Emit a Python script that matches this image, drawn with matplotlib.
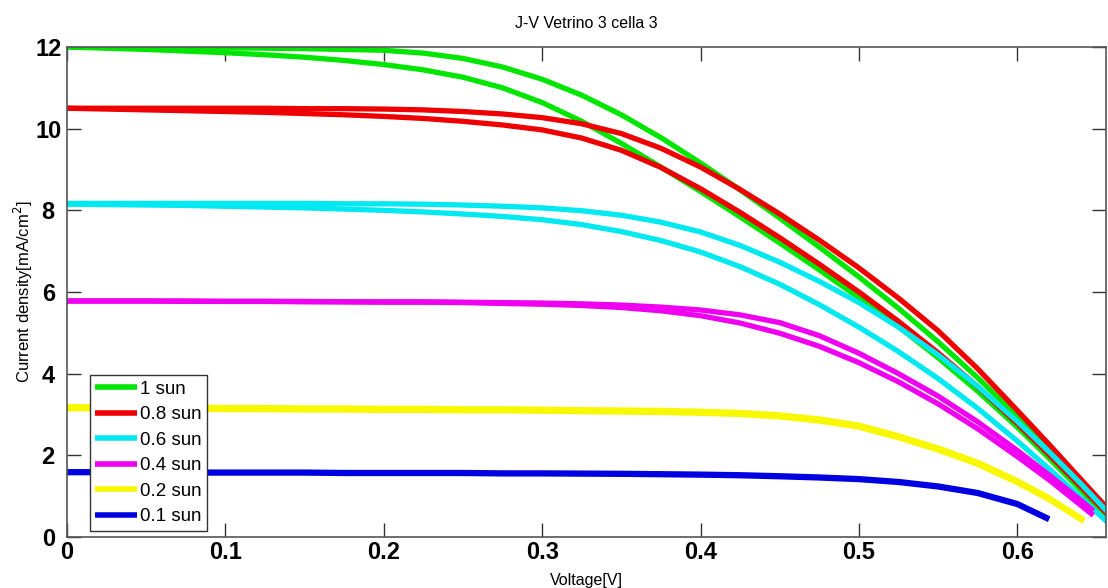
import matplotlib
matplotlib.use("Agg")
import matplotlib.pyplot as plt

plt.rcParams["font.family"] = ["Liberation Sans", "DejaVu Sans"]

# Voltage grids [V]
v_full = [0.0, 0.025, 0.05, 0.075, 0.1, 0.125, 0.15, 0.175, 0.2, 0.225, 0.25, 0.275,
          0.3, 0.325, 0.35, 0.375, 0.4, 0.425, 0.45, 0.475, 0.5, 0.525, 0.55, 0.575,
          0.6, 0.62, 0.64, 0.66]
v_mag = v_full[:-1] + [0.648]
v_yel = v_full[:-2] + [0.642]
v_blu = v_full[:-2]

# Current density [mA/cm^2], two sweeps per illumination level
j_100_a = [12.0, 12.0, 11.99, 11.99, 11.98, 11.97, 11.96, 11.94, 11.92, 11.85, 11.72, 11.51,
           11.21, 10.82, 10.34, 9.78, 9.16, 8.5, 7.81, 7.1, 6.37, 5.6, 4.78, 3.9,
           2.96, 2.16, 1.34, 0.5]
j_100_b = [12.0, 11.97, 11.94, 11.9, 11.86, 11.81, 11.75, 11.67, 11.57, 11.44, 11.26, 11.0,
           10.64, 10.18, 9.64, 9.06, 8.46, 7.84, 7.2, 6.54, 5.86, 5.15, 4.39, 3.57,
           2.69, 1.93, 1.15, 0.35]
j_080_a = [10.5, 10.5, 10.5, 10.5, 10.5, 10.5, 10.49, 10.49, 10.48, 10.46, 10.42, 10.36,
           10.27, 10.12, 9.88, 9.52, 9.06, 8.51, 7.91, 7.27, 6.59, 5.85, 5.05, 4.12,
           3.1, 2.27, 1.42, 0.57]
j_080_b = [10.5, 10.48, 10.46, 10.44, 10.42, 10.4, 10.37, 10.34, 10.3, 10.25, 10.18, 10.09,
           9.97, 9.77, 9.47, 9.05, 8.53, 7.95, 7.33, 6.68, 6.0, 5.28, 4.51, 3.68,
           2.78, 2.02, 1.24, 0.44]
j_060_a = [8.17, 8.17, 8.17, 8.17, 8.17, 8.17, 8.17, 8.16, 8.16, 8.15, 8.13, 8.1,
           8.06, 7.99, 7.88, 7.71, 7.47, 7.14, 6.73, 6.26, 5.74, 5.14, 4.46, 3.69,
           2.83, 2.09, 1.31, 0.49]
j_060_b = [8.15, 8.14, 8.13, 8.12, 8.1, 8.08, 8.06, 8.03, 8.0, 7.96, 7.91, 7.85,
           7.77, 7.65, 7.48, 7.26, 6.98, 6.62, 6.19, 5.69, 5.14, 4.54, 3.88, 3.15,
           2.35, 1.67, 0.97, 0.25]
j_040_a = [5.78, 5.78, 5.78, 5.78, 5.77, 5.77, 5.77, 5.76, 5.76, 5.76, 5.75, 5.74,
           5.73, 5.71, 5.68, 5.63, 5.56, 5.44, 5.25, 4.93, 4.5, 4.0, 3.45, 2.82,
           2.12, 1.52, 0.9, 0.64]
j_040_b = [5.78, 5.78, 5.78, 5.77, 5.77, 5.77, 5.76, 5.76, 5.75, 5.75, 5.74, 5.72,
           5.7, 5.67, 5.62, 5.54, 5.42, 5.24, 4.99, 4.67, 4.27, 3.8, 3.26, 2.65,
           1.97, 1.4, 0.78, 0.53]
j_020_a = [3.19, 3.19, 3.18, 3.18, 3.17, 3.17, 3.16, 3.16, 3.15, 3.15, 3.14, 3.14,
           3.13, 3.12, 3.11, 3.1, 3.08, 3.05, 2.99, 2.89, 2.74, 2.48, 2.18, 1.83,
           1.38, 0.96, 0.42]
j_020_b = [3.14, 3.14, 3.13, 3.13, 3.12, 3.12, 3.11, 3.11, 3.1, 3.1, 3.09, 3.09,
           3.08, 3.07, 3.06, 3.05, 3.03, 3.0, 2.94, 2.84, 2.69, 2.43, 2.13, 1.78,
           1.33, 0.92, 0.38]
j_010_a = [1.6, 1.6, 1.6, 1.59, 1.59, 1.59, 1.59, 1.58, 1.58, 1.58, 1.58, 1.57,
           1.57, 1.565, 1.56, 1.55, 1.54, 1.525, 1.5, 1.47, 1.43, 1.36, 1.25, 1.09,
           0.82, 0.45]
j_010_b = [1.575, 1.575, 1.575, 1.565, 1.565, 1.565, 1.565, 1.555, 1.555, 1.555, 1.555, 1.545,
           1.545, 1.54, 1.535, 1.525, 1.515, 1.5, 1.475, 1.445, 1.405, 1.335, 1.225, 1.065,
           0.795, 0.425]

labels = ["1 sun", "0.8 sun", "0.6 sun", "0.4 sun", "0.2 sun", "0.1 sun"]
colors = ["#00e600", "#ee0000", "#00e8f0", "#f000f0", "#f8f800", "#0000e0"]

sweeps = [
    (v_full, j_100_a, j_100_b),
    (v_full, j_080_a, j_080_b),
    (v_full, j_060_a, j_060_b),
    (v_mag, j_040_a, j_040_b),
    (v_yel, j_020_a, j_020_b),
    (v_blu, j_010_a, j_010_b),
]

fig = plt.figure(figsize=(11.08, 5.88), dpi=100)
ax = fig.add_axes([67 / 1108, 1 - 537 / 588, (1106 - 67) / 1108, (537 - 47) / 588])

handles = []
for (v, ja, jb), lab, col in zip(sweeps, labels, colors):
    h, = ax.plot(v, ja, color=col, lw=3.8, solid_capstyle="butt",
                 solid_joinstyle="round", label=lab)
    ax.plot(v, jb, color=col, lw=3.8, solid_capstyle="butt", solid_joinstyle="round")
    handles.append(h)

ax.set_xlim(0, 0.656)
ax.set_ylim(0, 12)
ax.set_xticks([0, 0.1, 0.2, 0.3, 0.4, 0.5, 0.6])
ax.set_xticklabels(["0", "0.1", "0.2", "0.3", "0.4", "0.5", "0.6"])
ax.set_yticks([0, 2, 4, 6, 8, 10, 12])

ax.tick_params(direction="in", length=10, width=1, colors="#333333",
               top=True, right=True, labelsize=17)
ax.tick_params(axis="x", pad=3)
ax.tick_params(axis="y", pad=13.5)
for lab in ax.get_xticklabels():
    lab.set_fontweight("bold")
    lab.set_color("black")
for lab in ax.get_yticklabels():
    lab.set_fontweight("bold")
    lab.set_color("black")
    lab.set_horizontalalignment("center")
for sp in ax.spines.values():
    sp.set_color("#555555")
    sp.set_linewidth(1.2)

ax.set_title("J-V Vetrino 3 cella 3", fontsize=11.5, pad=14)
ax.set_xlabel("Voltage[V]", fontsize=11.5, labelpad=6)
ax.set_ylabel("Current density[mA/cm$^2$]", fontsize=12, labelpad=0)

leg = ax.legend(handles=handles, loc="lower left", bbox_to_anchor=(0.022, 0.012),
                fontsize=13.5, handlelength=2.2, handletextpad=0.15,
                labelspacing=0.45, borderpad=0.3, borderaxespad=0.0,
                fancybox=False, framealpha=1, edgecolor="#333333")
leg.get_frame().set_linewidth(1.0)
for line in leg.get_lines():
    line.set_linewidth(4)

fig.savefig("out.png", dpi=100)
